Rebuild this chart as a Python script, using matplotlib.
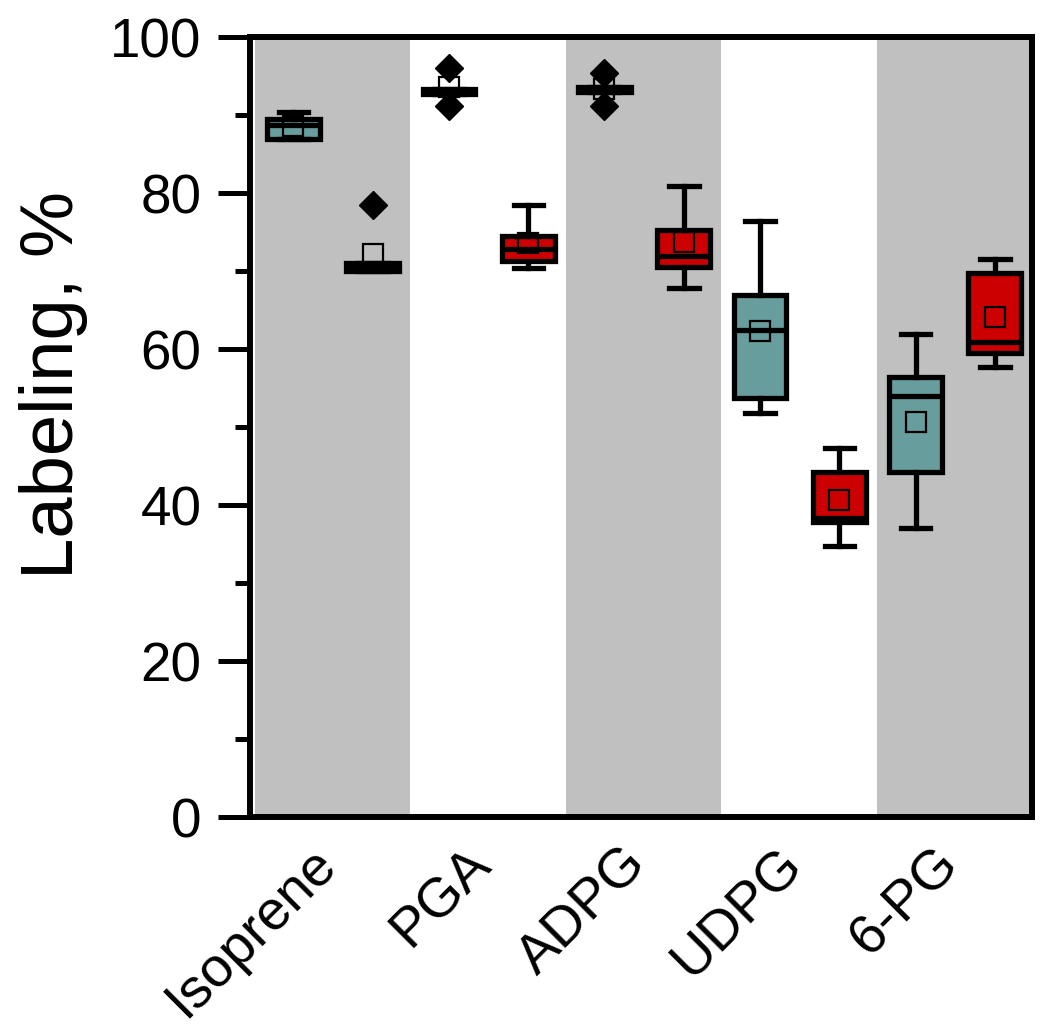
import matplotlib.pyplot as plt
import matplotlib.transforms as mtransforms
from matplotlib.ticker import MultipleLocator

plt.rcParams['font.family'] = ['Liberation Sans', 'DejaVu Sans']

categories = ["Isoprene", "PGA", "ADPG", "UDPG", "6-PG"]

# teal series (first box of each pair)
teal_lo = [87.0, 92.7, 93.0, 51.8, 37.1]
teal_q1 = [87.0, 92.7, 93.0, 53.7, 44.2]
teal_med = [88.8, 93.0, 93.3, 62.4, 54.0]
teal_q3 = [89.5, 93.3, 93.6, 66.9, 56.4]
teal_hi = [90.4, 93.3, 93.6, 76.4, 61.9]
teal_mean = [88.6, 93.6, 93.3, 62.3, 50.6]
teal_out = [[], [96.0, 91.2], [95.4, 91.2], [], []]

# red series (second box of each pair)
red_lo = [70.0, 70.4, 67.9, 34.7, 57.7]
red_q1 = [70.0, 71.3, 70.5, 37.8, 59.5]
red_med = [70.5, 72.8, 71.9, 38.3, 60.9]
red_q3 = [71.0, 74.5, 75.3, 44.2, 69.8]
red_hi = [71.0, 78.5, 80.9, 47.3, 71.6]
red_mean = [72.2, 73.6, 73.7, 40.7, 64.1]
red_out = [[78.5], [], [], [], []]


def make_stats(lo, q1, med, q3, hi, mean, out):
    return [dict(whislo=lo[i], q1=q1[i], med=med[i], q3=q3[i], whishi=hi[i],
                 mean=mean[i], fliers=out[i]) for i in range(len(lo))]


fig = plt.figure(figsize=(10.5, 10.26), dpi=100)
ax = fig.add_axes([0.238, 0.2037, 0.745, 0.76])

for i in range(len(categories)):
    if i % 2 == 0:
        ax.axvspan(i, i + 1, color="#c0c0c0", lw=0, zorder=0)

lw = 3.8
common = dict(
    widths=0.34, patch_artist=True, showmeans=True, capwidths=0.19,
    whiskerprops=dict(color="black", lw=lw),
    capprops=dict(color="black", lw=lw),
    medianprops=dict(color="black", lw=lw),
    meanprops=dict(marker="s", mfc="none", mec="black", ms=14, mew=1.6),
    flierprops=dict(marker="D", mfc="black", mec="black", ms=14),
)

teal_stats = make_stats(teal_lo, teal_q1, teal_med, teal_q3, teal_hi, teal_mean, teal_out)
red_stats = make_stats(red_lo, red_q1, red_med, red_q3, red_hi, red_mean, red_out)

ax.bxp(teal_stats, positions=[i + 0.25 for i in range(5)],
       boxprops=dict(facecolor="#689d9d", edgecolor="black", lw=lw), **common)
ax.bxp(red_stats, positions=[i + 0.76 for i in range(5)],
       boxprops=dict(facecolor="#cc0000", edgecolor="black", lw=lw), **common)

ax.set_xlim(-0.03, 5.0)
ax.set_ylim(0, 100)
ax.set_xticks([i + 0.5 for i in range(5)])
ax.set_xticklabels(categories, rotation=45, ha="right", fontsize=40)
ax.tick_params(axis="x", length=0, pad=15)
shift = mtransforms.ScaledTranslation(0.14, 0, fig.dpi_scale_trans)
for lab in ax.get_xticklabels():
    lab.set_transform(lab.get_transform() + shift)
ax.yaxis.set_major_locator(MultipleLocator(20))
ax.yaxis.set_minor_locator(MultipleLocator(10))
ax.tick_params(axis="y", which="major", length=23, width=3.6, labelsize=39.5, pad=12)
ax.tick_params(axis="y", which="minor", length=11, width=3.6)
for s in ax.spines.values():
    s.set_linewidth(4.3)
ax.set_ylabel("Labeling, %", fontsize=53.5)
ax.yaxis.set_label_coords(-0.207, 0.554)

fig.savefig("out.png", dpi=100)
